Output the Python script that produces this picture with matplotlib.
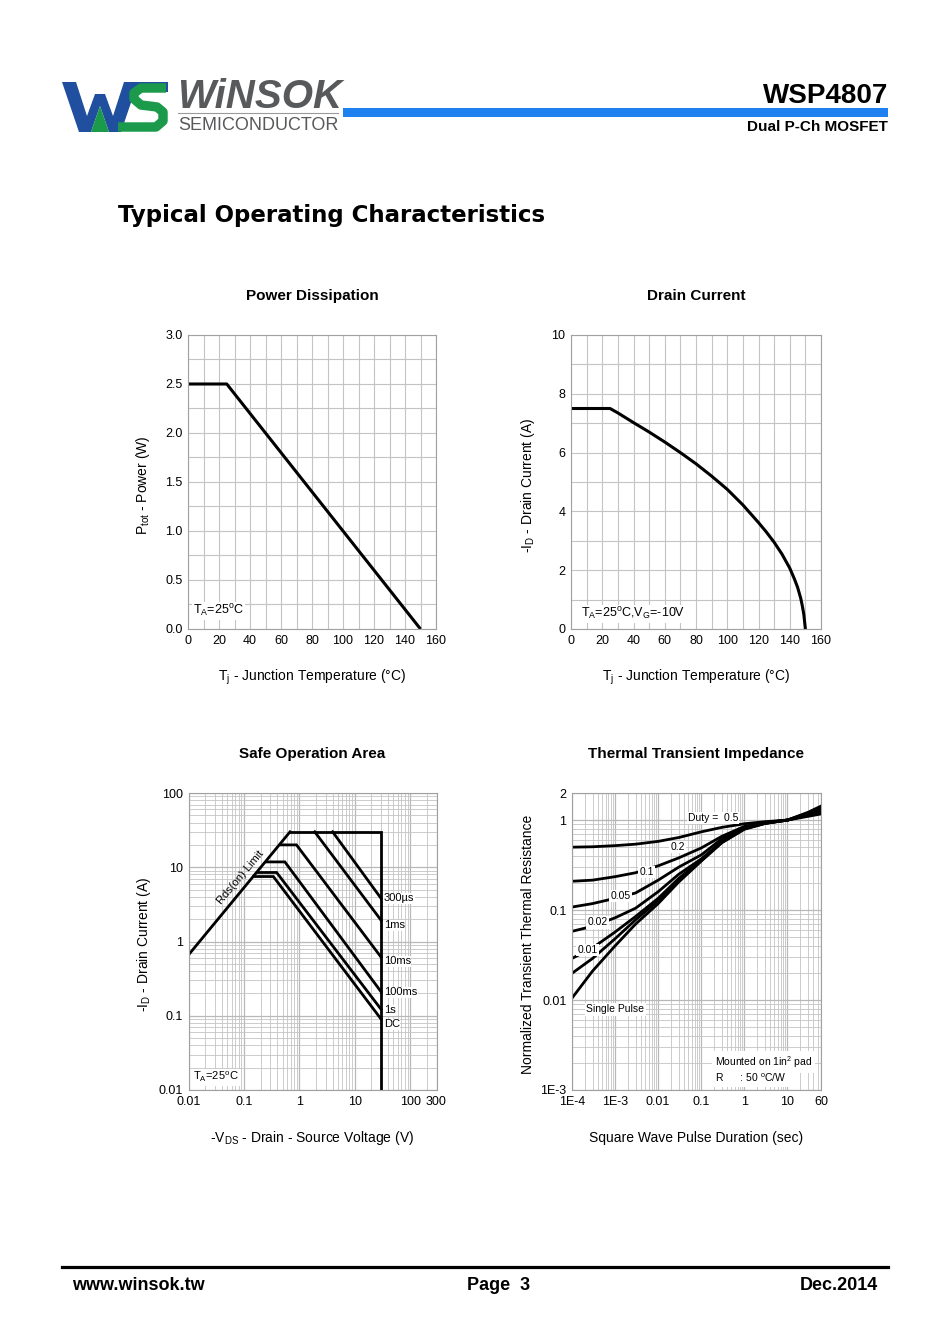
import matplotlib
matplotlib.use('Agg')
import matplotlib.pyplot as plt
from matplotlib.patches import Polygon, Rectangle
from matplotlib.ticker import FixedLocator, MultipleLocator, LogLocator, NullFormatter

plt.rcParams['font.family'] = ['Liberation Sans', 'DejaVu Sans']
plt.rcParams['mathtext.default'] = 'regular'

# ---------------- data ----------------
# Power dissipation
pd_temp = [0, 25, 150]
pd_power = [2.5, 2.5, 0.0]

# Drain current derating
id_temp = [0, 25, 30, 40, 50, 60, 70, 80, 90, 100, 110, 120, 125, 130, 135, 140, 143, 145, 147, 148, 149, 150]
id_curr = [7.5, 7.5, 7.35, 7.02, 6.7, 6.36, 6.0, 5.62, 5.2, 4.75, 4.22, 3.62, 3.3, 2.95, 2.55, 2.07, 1.7, 1.42, 1.05, 0.8, 0.5, 0.0]

# Safe operating area (V, A)
soa_rds_v = [0.01, 0.68]
soa_rds_i = [0.66, 30]
soa_lim_v = [0.68, 30, 30]
soa_lim_i = [30, 30, 0.01]
soa_300us_v = [4.0, 30]
soa_300us_i = [30, 3.8]
soa_1ms_v = [1.9, 30]
soa_1ms_i = [30, 1.93]
soa_10ms_v = [0.47, 0.89, 30]
soa_10ms_i = [20, 20, 0.615]
soa_100ms_v = [0.26, 0.55, 30]
soa_100ms_i = [11.8, 11.8, 0.21]
soa_1s_v = [0.18, 0.39, 30]
soa_1s_i = [8.5, 8.5, 0.122]
soa_dc_v = [0.15, 0.34, 30]
soa_dc_i = [7.5, 7.5, 0.09]
soa_names = ['300\u00b5s', '1ms', '10ms', '100ms', '1s', 'DC']
soa_name_y = [3.82, 1.66, 0.541, 0.207, 0.118, 0.0767]

# Thermal transient impedance
zt_time = [1e-4, 3e-4, 1e-3, 3e-3, 1e-2, 3e-2, 0.1, 0.3, 1, 3, 10, 30, 60]
zt_d05 = [0.50, 0.505, 0.52, 0.54, 0.58, 0.64, 0.74, 0.83, 0.91, 0.96, 1.0, 1.1, 1.17]
zt_d02 = [0.209, 0.215, 0.235, 0.26, 0.31, 0.38, 0.49, 0.66, 0.85, 0.94, 1.0, 1.13, 1.22]
zt_d01 = [0.108, 0.118, 0.135, 0.155, 0.215, 0.3, 0.41, 0.62, 0.83, 0.93, 1.0, 1.15, 1.27]
zt_d005 = [0.058, 0.066, 0.082, 0.105, 0.16, 0.25, 0.37, 0.58, 0.82, 0.93, 1.0, 1.17, 1.32]
zt_d002 = [0.029, 0.038, 0.057, 0.085, 0.135, 0.225, 0.36, 0.57, 0.81, 0.92, 1.0, 1.19, 1.37]
zt_d001 = [0.0198, 0.029, 0.048, 0.078, 0.127, 0.215, 0.355, 0.565, 0.80, 0.92, 1.0, 1.2, 1.40]
zt_single = [0.0105, 0.021, 0.04, 0.07, 0.118, 0.205, 0.35, 0.56, 0.79, 0.915, 1.0, 1.22, 1.43]
zt_labels = ['0.2', '0.1', '0.05', '0.02', '0.01']
zt_label_x = [0.0283, 5.4e-3, 1.33e-3, 3.94e-4, 2.28e-4]
zt_label_y = [0.503, 0.265, 0.144, 0.0728, 0.0358]

# ---------------- page ----------------
W, H = 950, 1344
fig = plt.figure(figsize=(9.5, 13.44), dpi=100)


def axrect(l, t, r, b):
    return [l / W, 1 - b / H, (r - l) / W, (b - t) / H]


def ptext(x, y, s, **kw):
    return fig.text(x / W, 1 - y / H, s, **kw)


bg = fig.add_axes([0, 0, 1, 1])
bg.set_xlim(0, W)
bg.set_ylim(H, 0)
bg.axis('off')

# logo: W (blue) with green triangle, S (green) with blue top bar
blue_logo = '#1f4f9e'
green_logo = '#1a9a4a'
w_pts = [(62, 82), (76, 82), (87, 116), (95, 94), (105, 94), (113, 116), (124, 82), (138, 82),
         (121, 132), (109, 132), (100, 106), (91, 132), (79, 132)]
bg.add_patch(Polygon(w_pts, closed=True, color=blue_logo, lw=0))
bg.add_patch(Polygon([(91, 132), (109, 132), (100, 106)], closed=True, color=green_logo, lw=0))
bg.plot([166, 141, 134, 134, 141, 157, 163, 163, 156, 118],
        [88, 88, 93, 99, 105, 107, 112, 121, 127, 127],
        color=green_logo, lw=6.8, solid_joinstyle='round', solid_capstyle='butt')
bg.add_patch(Polygon([(131, 82), (168, 82), (168, 92), (128, 92)], closed=True, color=blue_logo, lw=0))
ptext(177, 108, 'WiNSOK', fontsize=29, fontweight='bold', fontstyle='italic', color='#58595b')
bg.plot([178, 338], [113, 113], color='#9a9a9a', lw=0.8)
ptext(178, 130, 'SEMICONDUCTOR', fontsize=13, color='#58595b')

# header
bg.add_patch(Rectangle((343, 108), 545, 9, color='#1f80f0', lw=0))
ptext(888, 103, 'WSP4807', fontsize=20, fontweight='bold', ha='right')
ptext(888, 131, 'Dual P-Ch MOSFET', fontsize=11, fontweight='bold', ha='right')
ptext(118, 222, 'Typical Operating Characteristics', fontsize=16.5, fontweight='bold',
      family=['DejaVu Sans'])

# footer
bg.plot([62, 888], [1267, 1267], color='black', lw=2.3)
ptext(72, 1290, 'www.winsok.tw', fontsize=13, fontweight='bold')
ptext(499, 1290, 'Page  3', fontsize=13, fontweight='bold', ha='center')
ptext(878, 1290, 'Dec.2014', fontsize=13, fontweight='bold', ha='right')

grid_c = '#c4c4c4'
note_box = dict(facecolor='white', edgecolor='none', pad=1.0)


def style(ax):
    for s in ax.spines.values():
        s.set_color('#a0a0a0')
        s.set_linewidth(0.8)
    ax.tick_params(which='both', length=0, labelsize=9, pad=4)
    ax.set_axisbelow(True)


def labels(l, t, r, b, title, xlabel, ylabel, ylx):
    cx = (l + r) / 2
    ptext(cx, t - 39, title, fontsize=11, fontweight='bold', ha='center', va='center')
    ptext(cx, b + 48, xlabel, fontsize=10, ha='center', va='center')
    ptext(ylx, (t + b) / 2 + 3, ylabel, fontsize=10, ha='center', va='center', rotation=90)


# ---------- Power Dissipation ----------
ax1 = fig.add_axes(axrect(188, 335, 436, 629))
style(ax1)
ax1.set_xlim(0, 160)
ax1.set_ylim(0, 3.0)
ax1.xaxis.set_major_locator(MultipleLocator(20))
ax1.xaxis.set_minor_locator(MultipleLocator(10))
ax1.yaxis.set_major_locator(MultipleLocator(0.5))
ax1.yaxis.set_minor_locator(MultipleLocator(0.25))
ax1.yaxis.set_major_formatter(plt.FormatStrFormatter('%.1f'))
ax1.grid(which='both', color=grid_c, lw=0.8)
ax1.plot(pd_temp, pd_power, color='black', lw=2.2, solid_capstyle='butt')
ax1.text(3.2, 0.184, 'T$_A$=25$^o$C', fontsize=9, va='center', bbox=note_box)
labels(188, 335, 436, 629, 'Power Dissipation', 'T$_j$ - Junction Temperature (\u00b0C)',
       'P$_{tot}$ - Power (W)', 143)

# ---------- Drain Current ----------
ax2 = fig.add_axes(axrect(571, 335, 821, 629))
style(ax2)
ax2.set_xlim(0, 160)
ax2.set_ylim(0, 10)
ax2.xaxis.set_major_locator(MultipleLocator(20))
ax2.xaxis.set_minor_locator(MultipleLocator(10))
ax2.yaxis.set_major_locator(MultipleLocator(2))
ax2.yaxis.set_minor_locator(MultipleLocator(1))
ax2.grid(which='both', color=grid_c, lw=0.8)
ax2.plot(id_temp, id_curr, color='black', lw=2.2)
ax2.text(6.4, 0.51, 'T$_A$=25$^o$C,V$_G$=-10V', fontsize=9, va='center', bbox=note_box)
labels(571, 335, 821, 629, 'Drain Current', 'T$_j$ - Junction Temperature (\u00b0C)',
       '-I$_D$ - Drain Current (A)', 528)

# ---------- Safe Operation Area ----------
ax3 = fig.add_axes(axrect(188.5, 793, 436.5, 1090))
style(ax3)
ax3.set_xscale('log')
ax3.set_yscale('log')
ax3.set_xlim(0.01, 300)
ax3.set_ylim(0.01, 100)
ax3.xaxis.set_major_locator(FixedLocator([0.01, 0.1, 1, 10, 100, 300]))
ax3.set_xticklabels(['0.01', '0.1', '1', '10', '100', '300'])
ax3.xaxis.set_minor_locator(LogLocator(base=10, subs=range(2, 10), numticks=20))
ax3.xaxis.set_minor_formatter(NullFormatter())
ax3.yaxis.set_major_locator(FixedLocator([0.01, 0.1, 1, 10, 100]))
ax3.set_yticklabels(['0.01', '0.1', '1', '10', '100'])
ax3.yaxis.set_minor_locator(LogLocator(base=10, subs=range(2, 10), numticks=20))
ax3.yaxis.set_minor_formatter(NullFormatter())
ax3.grid(which='major', color='#b8b8b8', lw=0.9)
ax3.grid(which='minor', color=grid_c, lw=0.6)
for v, i in [(soa_rds_v, soa_rds_i), (soa_lim_v, soa_lim_i), (soa_300us_v, soa_300us_i),
             (soa_1ms_v, soa_1ms_i), (soa_10ms_v, soa_10ms_i), (soa_100ms_v, soa_100ms_i),
             (soa_1s_v, soa_1s_i), (soa_dc_v, soa_dc_i)]:
    ax3.plot(v, i, color='black', lw=2.0, solid_joinstyle='miter')
for name, y in zip(soa_names, soa_name_y):
    ax3.annotate(name, xy=(30, y), xytext=(2, 0), textcoords='offset points',
                 fontsize=8, va='center', ha='left', bbox=dict(facecolor='white', edgecolor='none', pad=0.3))
ax3.text(0.0879, 7.32, 'Rds(on) Limit', fontsize=8, rotation=50, ha='center', va='center')
ax3.text(0.01196, 0.0148, 'T$_A$=25$^o$C', fontsize=8, va='center', bbox=note_box)
labels(188.5, 793, 436.5, 1090, 'Safe Operation Area', '-V$_{DS}$ - Drain - Source Voltage (V)',
       '-I$_D$ - Drain Current (A)', 144)

# ---------- Thermal Transient Impedance ----------
ax4 = fig.add_axes(axrect(572, 793, 821, 1090))
style(ax4)
ax4.set_xscale('log')
ax4.set_yscale('log')
ax4.set_xlim(1e-4, 60)
ax4.set_ylim(1e-3, 2)
ax4.xaxis.set_major_locator(FixedLocator([1e-4, 1e-3, 0.01, 0.1, 1, 10, 60]))
ax4.set_xticklabels(['1E-4', '1E-3', '0.01', '0.1', '1', '10', '60'])
ax4.xaxis.set_minor_locator(LogLocator(base=10, subs=range(2, 10), numticks=20))
ax4.xaxis.set_minor_formatter(NullFormatter())
ax4.yaxis.set_major_locator(FixedLocator([1e-3, 0.01, 0.1, 1, 2]))
ax4.set_yticklabels(['1E-3', '0.01', '0.1', '1', '2'])
ax4.yaxis.set_minor_locator(LogLocator(base=10, subs=range(2, 10), numticks=20))
ax4.yaxis.set_minor_formatter(NullFormatter())
ax4.grid(which='major', color='#b8b8b8', lw=0.9)
ax4.grid(which='minor', color=grid_c, lw=0.6)
for zt in [zt_d05, zt_d02, zt_d01, zt_d005, zt_d002, zt_d001, zt_single]:
    ax4.plot(zt_time, zt, color='black', lw=2.0)
lab_box = dict(facecolor='white', edgecolor='none', pad=0.8)
ax4.text(0.0483, 1.047, 'Duty =  0.5', fontsize=7.5, va='center', ha='left', bbox=lab_box, zorder=5)
for s, x, y in zip(zt_labels, zt_label_x, zt_label_y):
    ax4.text(x, y, s, fontsize=7.5, ha='center', va='center', bbox=lab_box, zorder=5)
ax4.text(2.16e-4, 0.00787, 'Single Pulse', fontsize=7.5, va='center', ha='left', bbox=lab_box, zorder=5)
ax4.text(0.205, 0.00205, 'Mounted on 1in$^2$ pad', fontsize=7.5, va='center', ha='left',
         bbox=dict(facecolor='white', edgecolor='none', pad=2), zorder=5)
ax4.text(0.205, 0.00136, 'R      : 50 $^o$C/W', fontsize=7.5, va='center', ha='left',
         bbox=dict(facecolor='white', edgecolor='none', pad=2), zorder=5)
labels(572, 793, 821, 1090, 'Thermal Transient Impedance', 'Square Wave Pulse Duration (sec)',
       'Normalized Transient Thermal Resistance', 528)

fig.savefig('out.png', dpi=100)
